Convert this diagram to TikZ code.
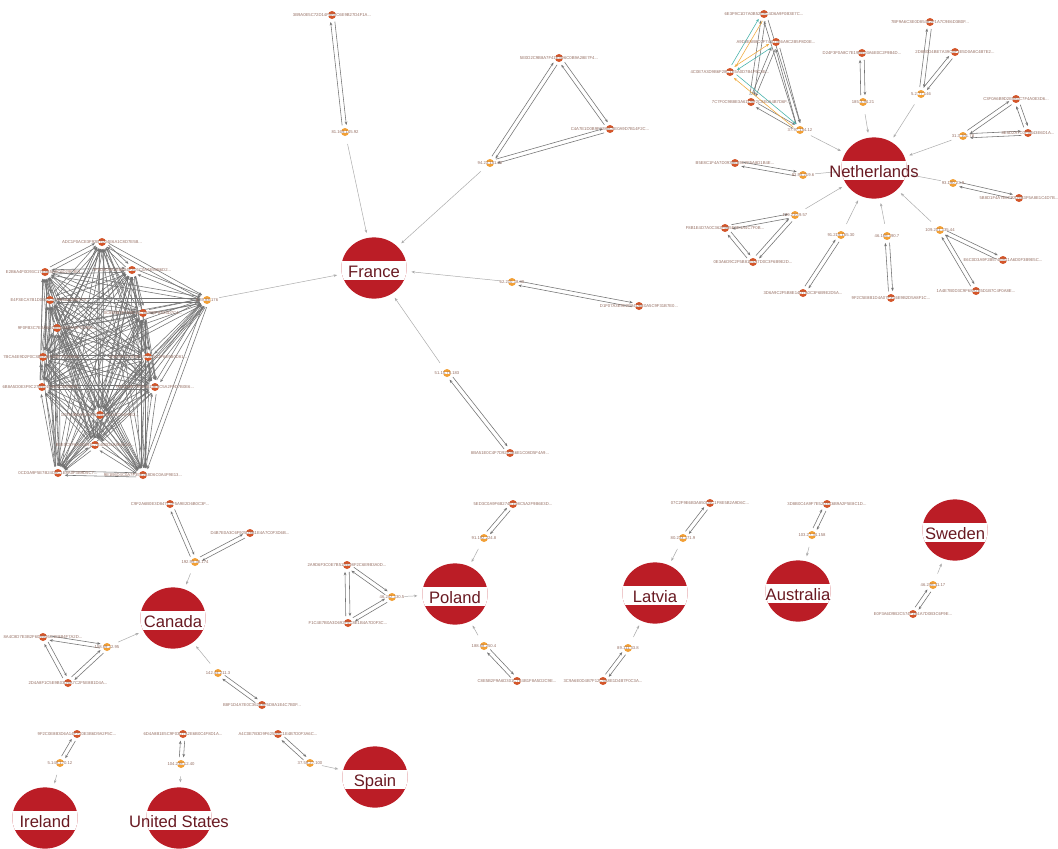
\documentclass[tikz,border=0pt]{standalone}
\usepackage{fontspec}
\setmainfont{Liberation Sans}
\usetikzlibrary{arrows.meta,calc,shapes.geometric}
\definecolor{flagred}{RGB}{187,29,38}
\definecolor{flagtext}{RGB}{105,26,34}
\definecolor{hashred}{RGB}{212,86,42}
\definecolor{iporange}{RGB}{242,160,54}
\definecolor{tagtext}{RGB}{150,112,100}
\definecolor{edgegray}{RGB}{115,115,115}
\definecolor{teallink}{RGB}{70,178,170}
\definecolor{orangelink}{RGB}{240,170,60}
\pgfdeclarelayer{back}
\pgfdeclarelayer{edges}
\pgfsetlayers{back,edges,main}
\tikzset{>=stealth,
  country/.style={ellipse, minimum width=1.63cm, minimum height=1.53cm, inner sep=0pt, fill=flagred,
    path picture={\fill[white] ([xshift=-1.2cm,yshift=0.18cm]path picture bounding box.center)
      rectangle ([xshift=1.2cm,yshift=-0.3cm]path picture bounding box.center);},
    label={[cname]center:#1}},
  cname/.style={font=\fontsize{11.8}{12}\selectfont, text=flagtext, inner sep=0pt,
    text height=8.4pt, text depth=0pt, yshift=-0.1cm},
  dot/.style={circle, minimum size=0.2cm, inner sep=0pt,
    path picture={\fill[white] ([xshift=-1mm,yshift=0.25mm]path picture bounding box.center)
      rectangle ([xshift=1mm,yshift=-0.35mm]path picture bounding box.center);}},
  hash/.style={dot, fill=hashred, label={[tag]center:#1}},
  ip/.style={dot, fill=iporange, label={[tag]center:#1}},
  tag/.style={font=\fontsize{3}{3}\selectfont, text=tagtext, inner sep=0pt},
  link/.style={draw=edgegray, line width=0.4pt, -{Stealth[length=2.4pt,width=1.9pt]},
    shorten >=0.17cm, shorten <=0.17cm},
  feed/.style={draw=edgegray!60, line width=0.35pt, -{Stealth[length=2.4pt,width=1.9pt]},
    shorten >=0.12cm, shorten <=0.2cm}
}
% two opposite arrows side by side
\newcommand{\twoway}[3][link]{%
  \draw[#1] ($(#2)!1.5pt!90:(#3)$) -- ($(#3)!1.5pt!-90:(#2)$);
  \draw[#1] ($(#3)!1.5pt!90:(#2)$) -- ($(#2)!1.5pt!-90:(#3)$);}
\newcommand{\twotone}[2]{%
  \draw[link,draw=teallink] ($(#1)!1.5pt!90:(#2)$) -- ($(#2)!1.5pt!-90:(#1)$);
  \draw[link,draw=orangelink] ($(#2)!1.5pt!90:(#1)$) -- ($(#1)!1.5pt!-90:(#2)$);}

\begin{document}
\begin{tikzpicture}[x=0.025cm, y=-0.025cm]
  \begin{pgfonlayer}{back}
    \fill[white] (0,0) rectangle (1058,848);
  \end{pgfonlayer}
  \useasboundingbox (0,0) rectangle (1058,848);

  % countries
  \node[country=France] (france) at (374,268) {};
  \node[country=Netherlands] (nl) at (874,168) {};
  \node[country=Canada] (canada) at (173,618) {};
  \node[country=Poland] (poland) at (455,594) {};
  \node[country=Latvia] (latvia) at (655,593) {};
  \node[country=Australia] (australia) at (798,591) {};
  \node[country=Sweden] (sweden) at (955,530) {};
  \node[country=Spain] (spain) at (375,777) {};
  \node[country=Ireland] (ireland) at (45,818) {};
  \node[country=United States] (us) at (179,818) {};

  % France
  \node[hash=3B9A0E5C72D14F8A0C6E9B27D4F1A...] (fh1) at (332,15) {};
  \node[ip=81.169.145.92] (fi1) at (345,132) {};
  \node[hash=5E0D2C9B8A7F41E3D6C0B9A28E7F4...] (fh2) at (559,58) {};
  \node[hash=C4A7E1D0B9F3286C5E0A9D7B14F2C...] (fh3) at (610,129) {};
  \node[ip=94.23.151.60] (fi2) at (490,163) {};
  \node[ip=62.210.18.40] (fi3) at (512,282) {};
  \node[hash=D1F07A3E9C2B84D6E0A5C9F31B7E0...] (fh4) at (639,306) {};
  \node[ip=51.15.76.183] (fi4) at (447,373) {};
  \node[hash=8BA51E0C4F7D92A3B6E1C08D5F4A9...] (fh5) at (510,453) {};
  \node[ip=5.39.88.176] (fi5) at (207,300) {};
  \node[hash=ADC1F0ACE3F92B7D04E6A1C8D7E5B...] (c1) at (102,242) {};
  \node[hash=E2B6A4F0D93C17E8B5A0C6D29F3E1...] (c2) at (45,272) {};
  \node[hash=7F3D0C9A1E6B84F2D5C0A7E93B6D2...] (c3) at (132,270) {};
  \node[hash=E4F3ECA7B1D0962C8F5E3A4D0B7C9...] (c4) at (50,300) {};
  \node[hash=0C8E5B2F7A9D14C6E3B0F8A25D7C4...] (c5) at (143,313) {};
  \node[hash=9F0FB3C7E2A5D18B4E6C0A9F7D3B5...] (c6) at (57,328) {};
  \node[hash=7BCA4E9D2F0C3B6A8E1D5F7C09A4E...] (c7) at (43,357) {};
  \node[hash=2A6D9F1C4E8B07D3A5C2F6E9B0D81...] (c8) at (148,357) {};
  \node[hash=6B8A5D0E3F9C27B4D1E6A0C5F8B3D...] (c9) at (42,387) {};
  \node[hash=F5C2A9E7B0D4613E8C5A2F9D7B0E6...] (c10) at (155,387) {};
  \node[hash=1D7E4B0A9C3F82E6D5B1A7C04F9E2...] (c11) at (100,415) {};
  \node[hash=B3E0C8F6A2D591C7E4B0D3A8F6C15...] (c12) at (95,445) {};
  \node[hash=0CD3A9F5E7B24D6C1E8A0F3B9D5C7...] (c13) at (58,473) {};
  \node[hash=9E1B6D4C0A7F35E2B8D6C0A4F9E13...] (c14) at (143,475) {};

  % Netherlands
  \node[hash=6E3F9C1D7A0B52E8C4D6A9F0B3E7C...] (na) at (764,14) {};
  \node[hash=A9D2E5B8C0F741D3E6A9C2B5F8D0E...] (nb) at (776,42) {};
  \node[hash=4C0E7A3D9B6F28C1E5A0D7B4F9C3E...] (nc) at (730,72) {};
  \node[hash=7C7F0C9B8E3A61D5F2C8E0A4B7D6F...] (nd) at (751,102) {};
  \node[ip=37.97.154.12] (ne) at (800,130) {};
  \node[hash=D24F3F0A8C7E19B5D3A6E0C2F9B4D...] (nf) at (862,53) {};
  \node[ip=185.3.94.21] (ng) at (863,102) {};
  \node[hash=7BF9A6C3E0D854B2F1A7C9E6D3B0F...] (nh) at (930,22) {};
  \node[hash=2D8B0D4BE7A39C6F1E5D0A8C4B7E2...] (ni) at (955,52) {};
  \node[ip=5.2.77.146] (nj) at (921,94) {};
  \node[hash=C3F0A6B9D2E581C7F4A0E3D6...] (nk) at (1016,99) {};
  \node[hash=8E5D2A7C0F9B43E6D1A...] (nl2) at (1028,133) {};
  \node[ip=31.3.101.78] (nm) at (963,136) {};
  \node[hash=5B8D1F4A7E0C92D6B3F5A8E1C4D7B...] (nn) at (1019,198) {};
  \node[ip=93.190.23.9] (no) at (953,183) {};
  \node[hash=E6C0D3A9F2B574E8C1A6D0F3B9E5C...] (np) at (1003,260) {};
  \node[hash=1A4E7B0D3C9F68A2E5D1B7C4F0A8E...] (nq) at (976,291) {};
  \node[ip=109.201.135.44] (nr) at (940,230) {};
  \node[hash=9F2C5E8B1D4A07F3C6E9B2D5A8F1C...] (ns) at (891,298) {};
  \node[ip=46.166.190.7] (nt) at (887,236) {};
  \node[hash=3D6A9C2F5B8E14D7A0C3F6B9E2D5A...] (nu) at (803,293) {};
  \node[ip=91.215.155.30] (nv) at (841,235) {};
  \node[hash=F8B1E4D7A0C362F9B5E8D1A4C7F0B...] (nw) at (725,228) {};
  \node[hash=0E3A6D9C2F5B81E4A7D0C3F6B9E2D...] (nx) at (753,262) {};
  \node[ip=149.210.9.57] (ny) at (795,215) {};
  \node[hash=B5E8C1F4A7D093B6E9C2F5A8D1B4E...] (nz) at (735,163) {};
  \node[ip=82.94.219.6] (naa) at (803,175) {};

  % Canada
  \node[hash=C9F2A6B0E3D847C1F5A9E2D6B0C3F...] (ca1) at (170,504) {};
  \node[hash=D4B7E0A3C6F925D8B1E4A7C0F3D6B...] (ca2) at (250,533) {};
  \node[ip=192.99.38.174] (cai1) at (195,562) {};
  \node[hash=8A4C8D7E3B2F60A9D5C1E8B4F7A2D...] (ca3) at (43,637) {};
  \node[hash=2D4A8F1C5E9B03D6A7C2F5E8B1D4A...] (ca4) at (68,683) {};
  \node[ip=158.69.12.95] (cai2) at (107,647) {};
  \node[hash=B8F1D4A7E0C362B9F5D8A1E4C7B0F...] (ca5) at (262,705) {};
  \node[ip=142.44.211.3] (cai3) at (218,673) {};

  % Poland
  \node[hash=5ED3C0A9F6B274E1D8C5A2F9B6E3D...] (po1) at (513,504) {};
  \node[ip=91.192.224.8] (poi1) at (484,538) {};
  \node[hash=2A9D6F3C0E7B51A4D8F2C6E9B3A0D...] (po2) at (347,565) {};
  \node[hash=F1C4E7B0A3D692F5C8E1B4A7D0F3C...] (po3) at (348,623) {};
  \node[ip=46.242.130.5] (poi2) at (392,597) {};
  \node[hash=C8E5B2F9A6D301C7E4B1F8A5D2C9E...] (po4) at (517,681) {};
  \node[ip=188.68.250.4] (poi3) at (484,646) {};

  % Latvia
  \node[hash=07C2F9E6B3A850D4C1F8E5B2A9D6C...] (la1) at (710,503) {};
  \node[ip=80.233.171.9] (lai1) at (683,538) {};
  \node[hash=3C9A6E0D4B7F12C5A8E1D4B7F0C3A...] (la2) at (603,681) {};
  \node[ip=89.111.33.8] (lai2) at (628,648) {};

  % Australia, Sweden
  \node[hash=3D8B0C4A9F7E52D3C6B9A2F5E8C1D...] (au1) at (827,504) {};
  \node[ip=103.27.34.158] (aui1) at (812,535) {};
  \node[hash=E0F3A6D9B2C574F1E4A7D0B3C6F9E...] (sw1) at (913,614) {};
  \node[ip=46.246.41.17] (swi1) at (933,585) {};

  % Ireland, United States, Spain
  \node[hash=9F2C0E8B3D6A14F7C0E3B6D9A2F5C...] (ir1) at (77,734) {};
  \node[ip=5.149.170.12] (iri1) at (60,763) {};
  \node[hash=6D4A8B1E5C9F03D7A2E6B0C4F8D1A...] (us1) at (183,734) {};
  \node[ip=104.238.12.40] (usi1) at (181,764) {};
  \node[hash=A4C0E7B3D9F625A8C1E4B7D0F3A6C...] (sp1) at (278,734) {};
  \node[ip=37.59.27.100] (spi1) at (310,763) {};

  \begin{pgfonlayer}{edges}
    % France
    \twoway{fh1}{fi1}
    \twoway{fh2}{fi2}
    \twoway{fh2}{fh3}
    \twoway{fi2}{fh3}
    \twoway{fi3}{fh4}
    \twoway{fi4}{fh5}
    \foreach \i in {1,...,14}{
      \foreach \j in {1,...,14}{
        \ifnum\i<\j \twoway{c\i}{c\j}\fi
      }
      \twoway{c\i}{fi5}
    }
    \foreach \n in {fi1,fi2,fi3,fi4,fi5}
      \draw[feed] (\n) -- (france);
    % Netherlands
    \twoway{na}{nd}
    \twoway{na}{ne}
    \twoway{nb}{nd}
    \twoway{nb}{ne}
    \twoway{nd}{ne}
    \twotone{nc}{na}
    \twotone{nb}{nc}
    \twotone{nc}{ne}
    \twoway{nf}{ng}
    \twoway{nh}{nj}
    \twoway{ni}{nj}
    \twoway{nk}{nm}
    \twoway{nl2}{nm}
    \twoway{nk}{nl2}
    \twoway{nn}{no}
    \twoway{np}{nr}
    \twoway{nq}{nr}
    \twoway{ns}{nt}
    \twoway{nu}{nv}
    \twoway{nw}{ny}
    \twoway{nx}{ny}
    \twoway{nw}{nx}
    \twoway{nz}{naa}
    \foreach \n in {ne,ng,nj,nm,no,nr,nt,nv,ny,naa}
      \draw[feed] (\n) -- (nl);
    % Canada
    \twoway{ca1}{cai1}
    \twoway{ca2}{cai1}
    \twoway{ca3}{cai2}
    \twoway{ca4}{cai2}
    \twoway{ca3}{ca4}
    \twoway{ca5}{cai3}
    \foreach \n in {cai1,cai2,cai3}
      \draw[feed] (\n) -- (canada);
    % Poland
    \twoway{po1}{poi1}
    \twoway{po2}{poi2}
    \twoway{po3}{poi2}
    \twoway{po2}{po3}
    \twoway{po4}{poi3}
    \foreach \n in {poi1,poi2,poi3}
      \draw[feed] (\n) -- (poland);
    % Latvia, Australia, Sweden
    \twoway{la1}{lai1}
    \twoway{la2}{lai2}
    \draw[feed] (lai1) -- (latvia);
    \draw[feed] (lai2) -- (latvia);
    \twoway{au1}{aui1}
    \draw[feed] (aui1) -- (australia);
    \twoway{sw1}{swi1}
    \draw[feed] (swi1) -- (sweden);
    % Ireland, United States, Spain
    \twoway{ir1}{iri1}
    \draw[feed] (iri1) -- (ireland);
    \twoway{us1}{usi1}
    \draw[feed] (usi1) -- (us);
    \twoway{sp1}{spi1}
    \draw[feed] (spi1) -- (spain);
  \end{pgfonlayer}
\end{tikzpicture}
\end{document}
